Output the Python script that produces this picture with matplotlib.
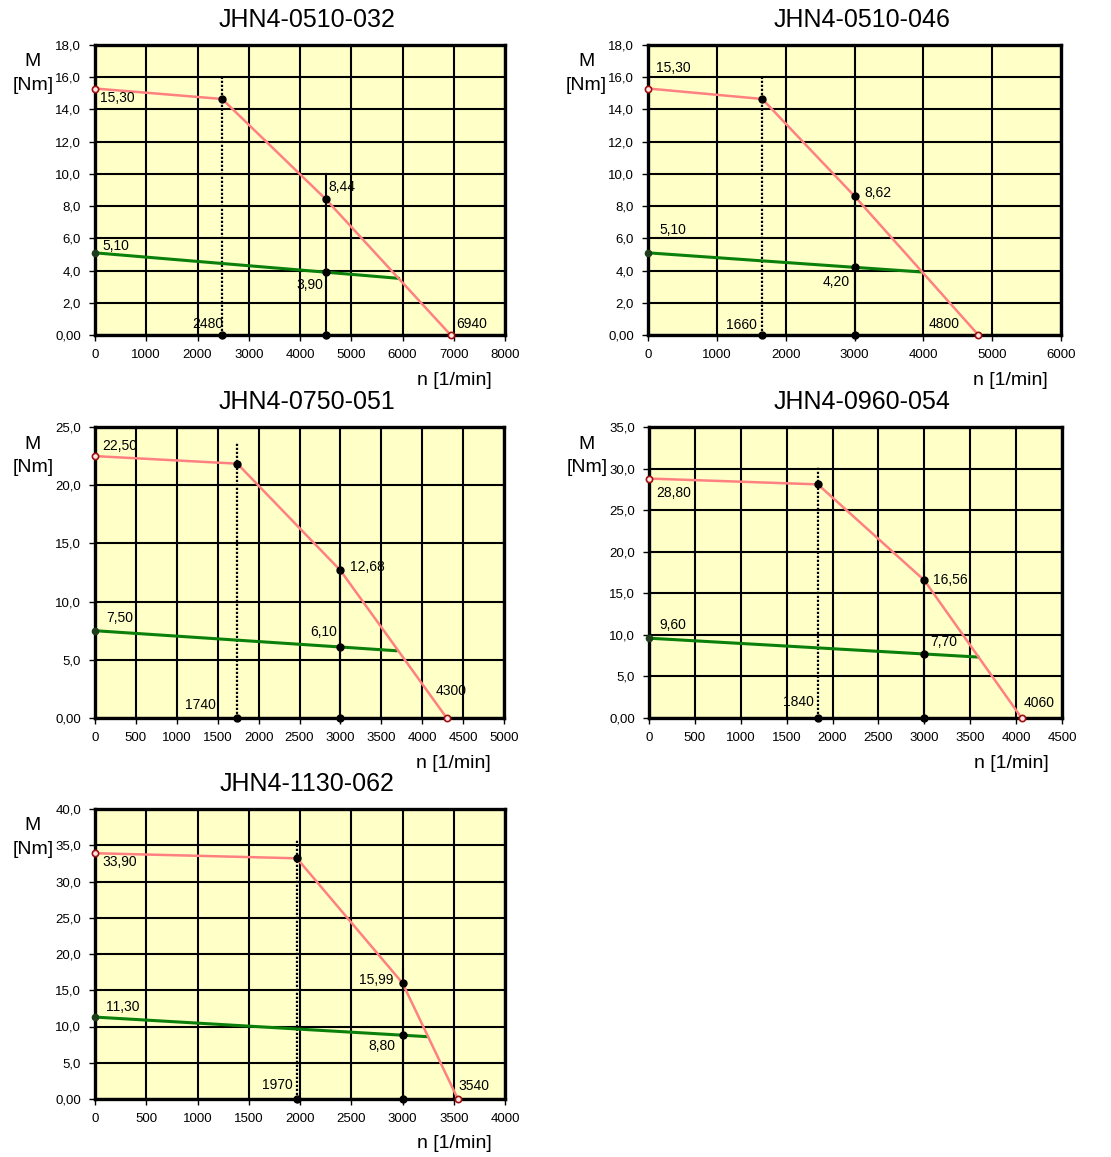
import matplotlib
matplotlib.use("Agg")
import numpy as np
from matplotlib import pyplot as plt

# --- chart data ---
titles = ["JHN4-0510-032", "JHN4-0510-046", "JHN4-0750-051", "JHN4-0960-054", "JHN4-1130-062"]
x_max = [8000, 6000, 5000, 4500, 4000]
x_step = [1000, 1000, 500, 500, 500]
y_max = [18.0, 18.0, 25.0, 35.0, 40.0]
y_step = [2.0, 2.0, 5.0, 5.0, 5.0]

# peak torque curve: start, knee, operating point, no-load speed
red_n = [[0, 2480, 4500, 6940],
         [0, 1660, 3000, 4800],
         [0, 1740, 3000, 4300],
         [0, 1840, 3000, 4060],
         [0, 1970, 3000, 3540]]
red_m = [[15.30, 14.65, 8.44, 0.0],
         [15.30, 14.65, 8.62, 0.0],
         [22.50, 21.85, 12.68, 0.0],
         [28.80, 28.10, 16.56, 0.0],
         [33.90, 33.20, 15.99, 0.0]]

# continuous torque curve
green_n = [[0, 4500, 5950],
           [0, 3000, 3980],
           [0, 3000, 3700],
           [0, 3000, 3600],
           [0, 3000, 3250]]
green_m = [[5.10, 3.90, 3.51],
           [5.10, 4.20, 3.91],
           [7.50, 6.10, 5.77],
           [9.60, 7.70, 7.32],
           [11.30, 8.80, 8.59]]

knee_line_top = [16.1, 16.1, 23.7, 30.3, 35.7]
op_line_top = [10.0, 10.0, 14.5, 18.5, 18.0]

# label offsets in pixels (start red, start green, op red, op green, knee speed, end speed)
offsets = [
    [(5, -10, "left"), (7, 7, "left"), (3, 12, "left"), (-2, -13, "right"), (1, 11, "right"), (6, 11, "left")],
    [(8, 20, "left"), (11, 23, "left"), (10, 3, "left"), (-5, -15, "right"), (-5, 10, "right"), (-19, 11, "right")],
    [(7, 10, "left"), (11, 13, "left"), (10, 3, "left"), (-3, 15, "right"), (-21, 13, "right"), (-11, 27, "left")],
    [(7, -14, "left"), (10, 13, "left"), (9, 0, "left"), (6, 12, "left"), (-4, 16, "right"), (2, 15, "left")],
    [(7, -9, "left"), (11, 10, "left"), (-9, 3, "right"), (-7, -11, "right"), (-4, 14, "right"), (1, 13, "left")],
]

# axes boxes in pixels: left, top, right, bottom
boxes = [(95, 45, 505, 335), (648, 45, 1061, 335),
         (95, 427, 504, 718), (649, 427, 1062, 718),
         (95, 809, 505, 1099)]

W, H = 1111, 1157
BG = "#ffffc8"
RED = "#ff8080"
GREEN = "#0a800a"
narrow = ["Liberation Sans Narrow", "DejaVu Sans Condensed", "Liberation Sans"]
plt.rcParams["font.family"] = ["Liberation Sans", "DejaVu Sans"]

fig = plt.figure(figsize=(W / 100, H / 100), dpi=100)


def comma(v, nd):
    return ("%.*f" % (nd, v)).replace(".", ",")


for i in range(5):
    l, t, r, b = boxes[i]
    ax = fig.add_axes([l / W, 1 - b / H, (r - l) / W, (b - t) / H])
    ax.set_facecolor(BG)
    ax.set_xlim(0, x_max[i])
    ax.set_ylim(0, y_max[i])
    xt = np.arange(0, x_max[i] + 1, x_step[i])
    yt = np.arange(0, y_max[i] + 0.01, y_step[i])
    ax.set_xticks(xt)
    ax.set_yticks(yt)
    ax.set_xticklabels([str(int(v)) for v in xt], family=narrow, stretch="condensed", fontsize=9.5)
    ax.set_yticklabels(["0,00" if v == 0 else comma(v, 1) for v in yt], family=narrow,
                       stretch="condensed", fontsize=9.5)
    ax.tick_params(length=4, width=1, pad=6)
    ax.grid(True, color="black", lw=1.5, zorder=1)
    ax.set_axisbelow(True)
    for s in ax.spines.values():
        s.set_linewidth(2.4)
        s.set_zorder(5)

    rn, rm = red_n[i], red_m[i]
    gn, gm = green_n[i], green_m[i]

    # vertical helper lines
    ax.plot([rn[1], rn[1]], [0, knee_line_top[i]], color="black", lw=1.6,
            ls=(0, (1, 0.8)), zorder=2)
    ax.plot([rn[2], rn[2]], [0, op_line_top[i]], color="black", lw=1.5, zorder=2)

    ax.plot(gn, gm, color=GREEN, lw=2.2, zorder=3, solid_capstyle="butt")
    ax.plot(rn, rm, color=RED, lw=1.8, zorder=3)

    # markers
    ax.plot([rn[1], rn[2], gn[1], rn[1], rn[2]], [rm[1], rm[2], gm[1], 0, 0],
            "o", color="black", ms=5, zorder=6, clip_on=False)
    ax.plot([0], [gm[0]], "o", color="#1d3d1d", ms=4.5, zorder=6, clip_on=False)
    ax.plot([0, rn[3]], [rm[0], 0], "o", mfc="#ffe8e8", mec="#a01010", mew=1.2,
            ms=4.5, zorder=6, clip_on=False)

    pts = [(0, rm[0], comma(rm[0], 2)), (0, gm[0], comma(gm[0], 2)),
           (rn[2], rm[2], comma(rm[2], 2)), (gn[1], gm[1], comma(gm[1], 2)),
           (rn[1], 0, str(rn[1])), (rn[3], 0, str(rn[3]))]
    for (x, y, s), (dx, dy, ha) in zip(pts, offsets[i]):
        ax.annotate(s, (x, y), xytext=(dx, dy), textcoords="offset pixels",
                    ha=ha, va="center", family=narrow, stretch="condensed",
                    fontsize=10, zorder=7, annotation_clip=False)

    # titles and axis labels
    fig.text((l + r) / 2 / W + 7 / W, 1 - (t - 25) / H, titles[i], ha="center",
             va="center", fontsize=18)
    fig.text((l - 62) / W, 1 - (t + 17) / H, "M", ha="center", va="center", fontsize=14)
    fig.text((l - 62) / W, 1 - (t + 40) / H, "[Nm]", ha="center", va="center", fontsize=14)
    fig.text((r - 13) / W, 1 - (b + 45) / H, "n [1/min]", ha="right", va="center", fontsize=14)

fig.savefig("out.png", dpi=100)
